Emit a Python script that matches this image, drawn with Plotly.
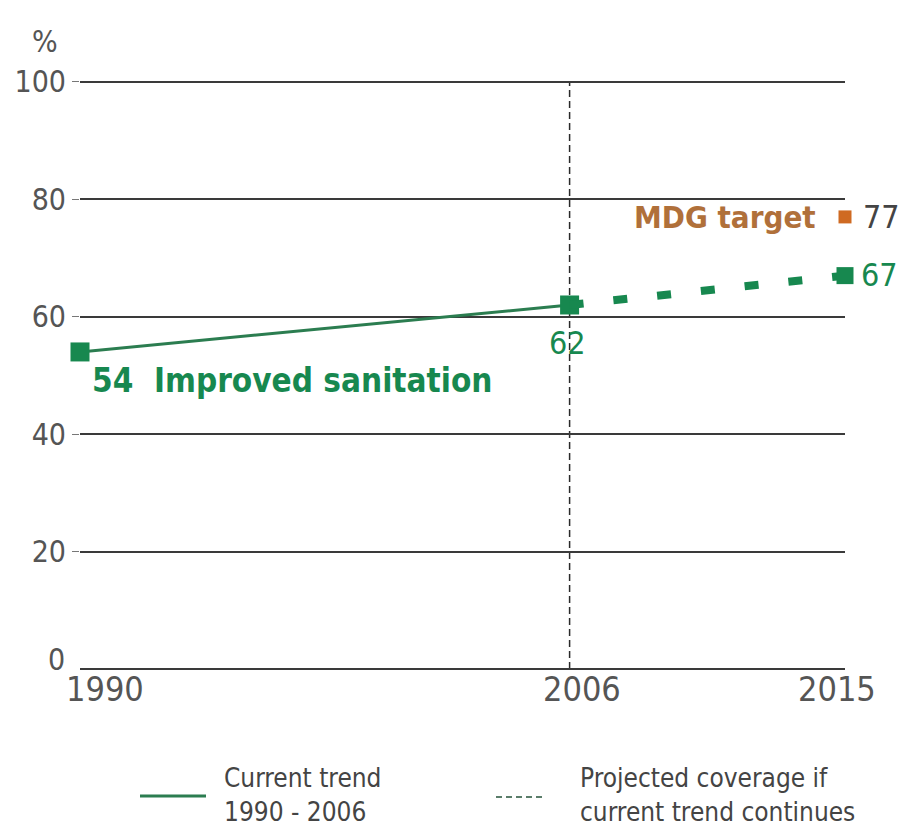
import plotly.graph_objects as go

# Sanitation coverage, percent
trend_years = [1990, 2006]
trend_values = [54, 62]
proj_years = [2006, 2015]
proj_values = [62, 67]
target_year = 2015
target_value = 77
y_ticks = [20, 40, 60, 80, 100]
x_ticks = [1990, 2006, 2015]

GREEN = "#17884f"
GREEN_LINE = "#2b7d50"
BROWN = "#b0703a"
ORANGE = "#cf6a22"
GRAY = "#555555"
FONT = "DejaVu Sans Condensed, Liberation Sans Narrow, sans-serif"

W, H = 903, 826
Y_TOP = 101
L, R, B = 80, 58, 157
T = round(H - B - (H - B - 82) * Y_TOP / 100)
PW, PH = W - L - R, H - T - B


def px(x):
    return (x - L) / PW


def py(y):
    return (H - B - y) / PH


fig = go.Figure()

# 1990-2006 trend
fig.add_trace(go.Scatter(
    x=trend_years, y=trend_values, mode="lines+markers",
    line=dict(color=GREEN_LINE, width=3),
    marker=dict(symbol="square", size=19, color=GREEN),
    showlegend=False, cliponaxis=False,
))
# projection to 2015
fig.add_trace(go.Scatter(
    x=proj_years, y=proj_values, mode="lines",
    line=dict(color=GREEN, width=8, dash="14px,30px"),
    showlegend=False, cliponaxis=False,
))
fig.add_trace(go.Scatter(
    x=proj_years[1:], y=proj_values[1:], mode="markers",
    marker=dict(symbol="square", size=17, color=GREEN),
    showlegend=False, cliponaxis=False,
))
# MDG target
fig.add_trace(go.Scatter(
    x=[target_year], y=[target_value], mode="markers",
    marker=dict(symbol="square", size=13, color=ORANGE),
    showlegend=False, cliponaxis=False,
))

# vertical reference at the last observed year
fig.add_shape(type="line", xref="x", yref="y",
              x0=trend_years[-1], x1=trend_years[-1], y0=0, y1=100,
              line=dict(color="#2a2a2a", width=1.5, dash="7px,4px"), layer="below")

ann = []
# data labels
ann.append(dict(x=trend_years[0], y=trend_values[0], xref="x", yref="y",
                text=f"<b>{trend_values[0]}  Improved sanitation</b>",
                xanchor="left", yanchor="middle", xshift=10, yshift=-29,
                font=dict(family=FONT, size=33, color=GREEN), showarrow=False))
ann.append(dict(x=trend_years[1], y=trend_values[1], xref="x", yref="y",
                text=str(trend_values[1]), xanchor="center", yanchor="middle",
                yshift=-38, xshift=-2, font=dict(family=FONT, size=32, color=GREEN),
                showarrow=False))
ann.append(dict(x=proj_years[1], y=proj_values[1], xref="x", yref="y",
                text=str(proj_values[1]), xanchor="left", yanchor="middle",
                xshift=14, yshift=1, font=dict(family=FONT, size=32, color=GREEN),
                showarrow=False))
ann.append(dict(x=target_year, y=target_value, xref="x", yref="y",
                text=str(target_value), xanchor="left", yanchor="middle",
                xshift=16, font=dict(family=FONT, size=32, color="#444444"),
                showarrow=False))
ann.append(dict(x=target_year, y=target_value, xref="x", yref="y",
                text="<b>MDG target</b>", xanchor="right", yanchor="middle",
                xshift=-27, font=dict(family=FONT, size=31, color=BROWN),
                showarrow=False))

# axis labels
ann.append(dict(x=px(45), y=py(42), xref="paper", yref="paper", text="%",
                xanchor="center", yanchor="middle",
                font=dict(family=FONT, size=30, color=GRAY), showarrow=False))
ann.append(dict(x=px(56), y=py(659), xref="paper", yref="paper", text="0",
                xanchor="center", yanchor="middle",
                font=dict(family=FONT, size=30, color=GRAY), showarrow=False))
x_label_shift = [25, 12, -8]
for yr, sh in zip(x_ticks, x_label_shift):
    ann.append(dict(x=yr, y=0, xref="x", yref="paper", text=str(yr),
                    xanchor="center", yanchor="top", xshift=sh, yshift=2,
                    font=dict(family=FONT, size=34, color=GRAY), showarrow=False))

# key
ann.append(dict(x=px(222), y=py(795), xref="paper", yref="paper",
                text="Current trend<br>1990 - 2006", align="left",
                xanchor="left", yanchor="middle",
                font=dict(family=FONT, size=26, color="#444444"), showarrow=False))
ann.append(dict(x=px(578), y=py(795), xref="paper", yref="paper",
                text="Projected coverage if<br>current trend continues", align="left",
                xanchor="left", yanchor="middle",
                font=dict(family=FONT, size=26, color="#444444"), showarrow=False))
fig.add_shape(type="line", xref="paper", yref="paper",
              x0=px(140), x1=px(206), y0=py(796), y1=py(796),
              line=dict(color=GREEN_LINE, width=3))
fig.add_shape(type="line", xref="paper", yref="paper",
              x0=px(496), x1=px(546), y0=py(797), y1=py(797),
              line=dict(color="#5a7d6a", width=2, dash="6px,4px"))

fig.update_layout(
    width=W, height=H,
    margin=dict(l=L, r=R, t=T, b=B, autoexpand=False),
    paper_bgcolor="white", plot_bgcolor="white",
    annotations=ann,
    xaxis=dict(range=[1990, 2015], showgrid=False, zeroline=False,
               showticklabels=False, ticks="", showline=False, fixedrange=True,
               automargin=False),
    yaxis=dict(range=[0, Y_TOP], tickvals=y_ticks, ticks="outside", ticklen=7,
               tickcolor="#777777", showgrid=True, gridcolor="#3a3a3a", gridwidth=1.5,
               zeroline=True, zerolinecolor="#3a3a3a", zerolinewidth=2,
               showline=False, tickfont=dict(family=FONT, size=30, color=GRAY),
               fixedrange=True, automargin=False),
)

fig.write_html("out.html")
